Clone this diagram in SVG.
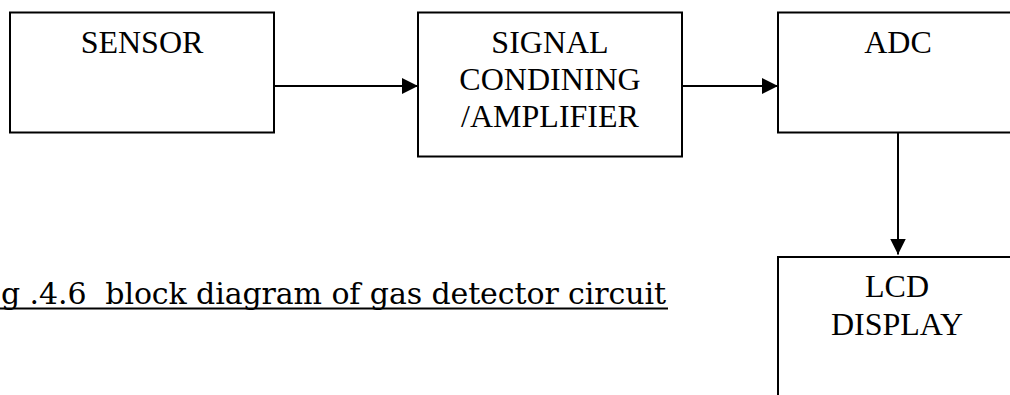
<svg xmlns="http://www.w3.org/2000/svg" width="1010" height="395" viewBox="0 0 1010 395">
<style>
.box{fill:#fff;stroke:#000;stroke-width:2}
.lbl{font-family:"Liberation Serif","Times New Roman",serif;font-size:32px;fill:#000;text-anchor:middle}
.conn{stroke:#000;stroke-width:2;fill:none}
.cap{font-family:"DejaVu Serif",serif;font-size:30px;fill:#000}
</style>
<defs>
<marker id="ah" viewBox="0 0 16 16" refX="16" refY="8" markerWidth="16" markerHeight="16" markerUnits="userSpaceOnUse" orient="auto">
<path d="M0,0 L16,8 L0,16 Z" fill="#000"/>
</marker>
</defs>
<g id="sensor">
<rect class="box" x="10" y="12.5" width="264" height="120"/>
<text class="lbl" x="142" y="53">SENSOR</text>
</g>
<g id="signal">
<rect class="box" x="418" y="12.5" width="264" height="144"/>
<text class="lbl" x="550" y="53">SIGNAL</text>
<text class="lbl" x="550" y="89.5">CONDINING</text>
<text class="lbl" x="550" y="126.5">/AMPLIFIER</text>
</g>
<g id="adc">
<rect class="box" x="778" y="12.5" width="260" height="120"/>
<text class="lbl" x="898" y="53">ADC</text>
</g>
<g id="lcd">
<rect class="box" x="778" y="257" width="260" height="160"/>
<text class="lbl" x="897" y="297">LCD</text>
<text class="lbl" x="897" y="334.5">DISPLAY</text>
</g>
<g id="connectors">
<line class="conn" x1="274" y1="86" x2="418" y2="86" marker-end="url(#ah)"/>
<line class="conn" x1="682" y1="86" x2="778" y2="86" marker-end="url(#ah)"/>
<line class="conn" x1="898" y1="132.5" x2="898" y2="254.5" marker-end="url(#ah)"/>
</g>
<g id="caption">
<text class="cap" x="1" y="304" xml:space="preserve" textLength="665" lengthAdjust="spacing">g .4.6  block diagram of gas detector circuit</text>
<line x1="0" y1="308.5" x2="668" y2="308.5" stroke="#000" stroke-width="2"/>
</g>
</svg>
